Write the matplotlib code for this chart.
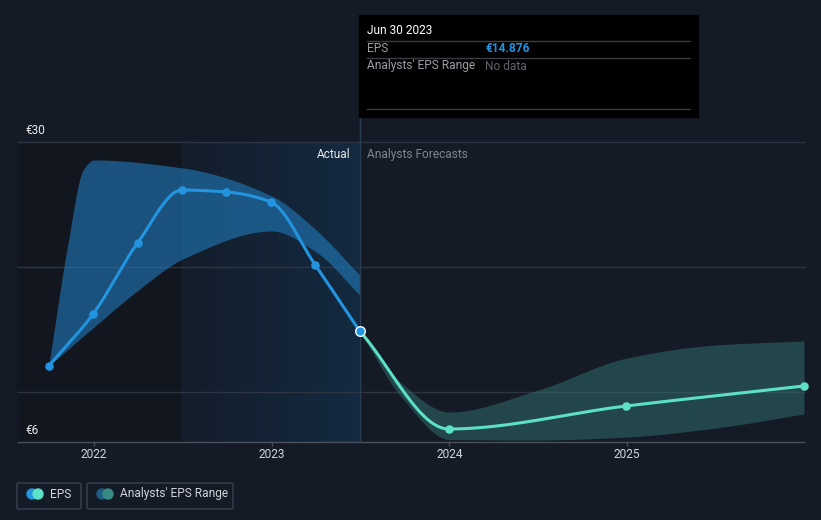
import numpy as np
import matplotlib
matplotlib.use("Agg")
import matplotlib.pyplot as plt
from matplotlib.colors import LinearSegmentedColormap
from matplotlib.patches import FancyBboxPatch, Circle

plt.rcParams['font.family'] = ['Roboto', 'DejaVu Sans']

# EPS history (fractional years, EUR)
past_x = [2021.745, 2021.995, 2022.245, 2022.495, 2022.745, 2022.995, 2023.245, 2023.495]
past_eps = [12.08, 16.24, 21.92, 26.16, 26.0, 25.2, 20.16, 14.876]

# analyst range around history
past_hi_x = [2021.745, 2021.85, 2021.94, 2022.0, 2022.5, 2023.0, 2023.25, 2023.495]
past_hi = [12.08, 21.6, 27.8, 28.56, 27.92, 25.68, 22.96, 19.36]
past_lo_x = [2021.745, 2022.0, 2022.25, 2022.5, 2023.0, 2023.25, 2023.495]
past_lo = [12.08, 15.2, 18.16, 20.64, 22.88, 21.2, 17.76]

# forecasts
fc_x = [2023.495, 2023.995, 2024.995, 2025.995]
fc_eps = [14.876, 7.04, 8.88, 10.48]
fc_band_x = [2023.495, 2023.73, 2024.0, 2024.5, 2025.0, 2025.5, 2025.995]
fc_hi = [14.876, 10.7, 8.4, 10.16, 12.72, 13.76, 14.08]
fc_lo = [14.876, 9.6, 6.2, 6.16, 6.4, 7.12, 8.24]

years = [2022, 2023, 2024, 2025]
grid_vals = [30, 20, 10]

BG = "#151b26"
BLUE = "#2394df"
MINT = "#5ce0c6"
FS = 8.6


def pchip(x, y, n=300):
    x = np.asarray(x, float)
    y = np.asarray(y, float)
    h = np.diff(x)
    d = np.diff(y) / h
    m = np.zeros_like(y)
    for i in range(1, len(x) - 1):
        if d[i - 1] * d[i] > 0:
            w1 = 2 * h[i] + h[i - 1]
            w2 = h[i] + 2 * h[i - 1]
            m[i] = (w1 + w2) / (w1 / d[i - 1] + w2 / d[i])
    m[0] = d[0]
    m[-1] = d[-1]
    xs = np.linspace(x[0], x[-1], n)
    k = np.clip(np.searchsorted(x, xs) - 1, 0, len(x) - 2)
    t = (xs - x[k]) / h[k]
    h00 = 2 * t**3 - 3 * t**2 + 1
    h10 = t**3 - 2 * t**2 + t
    h01 = -2 * t**3 + 3 * t**2
    h11 = t**3 - t**2
    ys = h00 * y[k] + h10 * h[k] * m[k] + h01 * y[k + 1] + h11 * h[k] * m[k + 1]
    return xs, ys


# pixel mapping: 2022 at x=94, 177.7 px/year; EUR6 at y=442, 12.5 px/EUR
px_per_year = 177.7
px_per_eur = 12.5
x0 = 2022 - 94 / px_per_year
x1 = 2022 + (821 - 94) / px_per_year
ytop = 6 + 442 / px_per_eur
ybot = 6 - (520 - 442) / px_per_eur

fig = plt.figure(figsize=(8.21, 5.2), dpi=100, facecolor=BG)
ax = fig.add_axes([0, 0, 1, 1])
ax.set_facecolor(BG)
ax.set_xlim(x0, x1)
ax.set_ylim(ybot, ytop)
ax.axis("off")


def px2x(p):
    return x0 + p / px_per_year


def py2y(p):
    return 6 + (442 - p) / px_per_eur


xl = px2x(17)
xr = px2x(805)
xa = 2022.495
xn = 2023.495

# darker region before highlight
ax.fill_between([xl, xa], 6, 30, color="#11161f", zorder=0, lw=0)
# highlighted gradient region
cmap = LinearSegmentedColormap.from_list("hl", ["#141d2b", "#132a40"], N=512)
ax.imshow(np.linspace(0, 1, 400).reshape(1, -1), cmap=cmap, aspect="auto",
          extent=[xa, xn, 6, 30], zorder=0.5, interpolation="bilinear")
ax.vlines(xa, 6, 30, color="#18222f", lw=1, zorder=0.6)

# grid
for g in grid_vals:
    ax.hlines(g, xl, xr, color="#2e3542", lw=1, zorder=1)
ax.hlines(6, xl, xr, color="#4a505c", lw=1, zorder=1)
for yr in years:
    ax.vlines(yr, 6 - 4 / px_per_eur, 6, color="#4a505c", lw=1, zorder=1)
    ax.text(yr, py2y(455), str(yr), color="#d0d3d8", fontsize=FS,
            ha="center", va="center")

# bands
hx, hy = pchip(past_hi_x, past_hi)
lx, ly = pchip(past_lo_x, past_lo)
ly_i = np.interp(hx, lx, ly)
ax.fill_between(hx, ly_i, hy, color="#2078b8", alpha=0.62, lw=0, zorder=2)

fx, fhy = pchip(fc_band_x, fc_hi)
_, fly = pchip(fc_band_x, fc_lo)
ax.fill_between(fx, fly, fhy, color="#2f6b68", alpha=0.55, lw=0, zorder=2)

# EPS lines
ex, ey = pchip(past_x, past_eps)
ax.plot(ex, ey, color=BLUE, lw=2.2, zorder=4, solid_capstyle="round")
ax.scatter(past_x[:-1], past_eps[:-1], s=38, color=BLUE, zorder=5, lw=0)
gx, gy = pchip(fc_x, fc_eps)
ax.plot(gx, gy, color=MINT, lw=2.2, zorder=4, solid_capstyle="round")
ax.scatter(fc_x[1:], fc_eps[1:], s=38, color=MINT, zorder=5, lw=0)
ax.scatter([past_x[-1]], [past_eps[-1]], s=48, color=BLUE, edgecolor="white",
           lw=1, zorder=6)

# divider line
ax.vlines(xn, 6, py2y(15), color="#2c3d52", lw=1, zorder=3)

# y labels
ax.text(px2x(25), py2y(130), "€30", color="#e6e8eb", fontsize=FS, ha="left", va="center")
ax.text(px2x(25), py2y(430), "€6", color="#e6e8eb", fontsize=FS, ha="left", va="center")

ax.text(px2x(351), py2y(154), "Actual", color="#e6e8eb", fontsize=FS, ha="right", va="center")
ax.text(px2x(367), py2y(154), "Analysts Forecasts", color="#80858d", fontsize=FS,
        ha="left", va="center")

# tooltip (figure pixel coords)
H = 520
fig.patches.append(plt.Rectangle((359 / 821, 1 - 117 / H), 339 / 821, 102 / H,
                                 transform=fig.transFigure, color="black", zorder=10))
for yy in [41, 58, 109]:
    fig.lines.append(plt.Line2D([367 / 821, 690 / 821], [1 - yy / H] * 2,
                                transform=fig.transFigure, color="#3a3d42", lw=1, zorder=11))
fig.text(367 / 821, 1 - 31 / H, "Jun 30 2023", color="white", fontsize=FS,
         va="center", zorder=12)
fig.text(367 / 821, 1 - 49 / H, "EPS", color="#9a9ea5", fontsize=FS, va="center", zorder=12)
fig.text(485 / 821, 1 - 49 / H, "€14.876", color=BLUE, fontsize=FS, fontweight="bold",
         va="center", zorder=12)
fig.text(367 / 821, 1 - 66 / H, "Analysts' EPS Range", color="#9a9ea5", fontsize=FS,
         va="center", zorder=12)
fig.text(485 / 821, 1 - 66 / H, "No data", color="#5f636a", fontsize=FS,
         va="center", zorder=12)

# legend boxes
for (bx, bw) in [(17, 64), (87, 146)]:
    fig.patches.append(FancyBboxPatch((bx / 821, 1 - 509 / H), bw / 821, 26 / H,
                                      boxstyle="round,pad=0,rounding_size=0.003",
                                      transform=fig.transFigure, facecolor="none",
                                      edgecolor="#3d434d", lw=1))
for cx, col in [(32, BLUE), (38, MINT), (102, "#1f5d88"), (108, "#3a8a84")]:
    fig.patches.append(Circle((cx, H - 494), 5, transform=None, color=col, zorder=12))
fig.text(50 / 821, 1 - 494 / H, "EPS", color="#d0d3d8", fontsize=FS, va="center")
fig.text(120 / 821, 1 - 494 / H, "Analysts' EPS Range", color="#d0d3d8", fontsize=FS,
         va="center")

fig.savefig("out.png", dpi=100, facecolor=BG)
